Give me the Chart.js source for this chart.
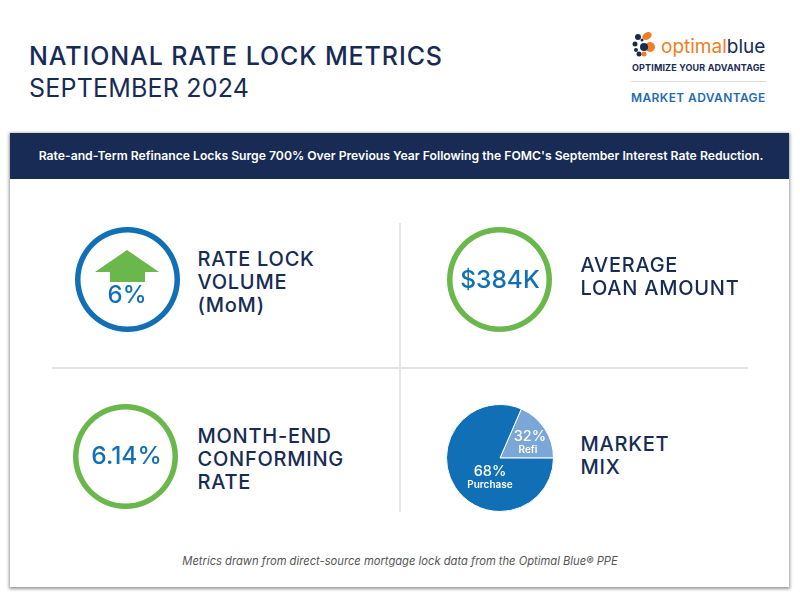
<!DOCTYPE html>
<html><head><meta charset="utf-8">
<script src="https://cdn.jsdelivr.net/npm/chart.js@4"></script>
<style>
html,body{margin:0;padding:0;background:#fff;width:800px;height:600px;overflow:hidden}
body{font-family:"Inter","Open Sans",sans-serif;position:relative}
.t{position:absolute;white-space:nowrap;line-height:1}
.card{position:absolute;left:10px;top:133px;width:779px;height:454px;background:#fff;box-shadow:0 1px 3px 1px #999}
.band{position:absolute;left:10px;top:133px;width:779px;height:46px;background:#172b55}
.ch{position:absolute}
.lab{color:#172b55;font-size:20px;font-weight:500;letter-spacing:.75px}
.val{color:#1170b5;text-align:center;transform:translateX(-50%);font-weight:500}
</style></head><body>
<div class="t" style="left:29px;top:44px;font-size:25px;font-weight:500;color:#172b55;letter-spacing:.9px">NATIONAL RATE LOCK METRICS</div>
<div class="t" style="left:29px;top:76px;font-size:25px;font-weight:400;color:#172b55;letter-spacing:.2px">SEPTEMBER 2024</div>
<svg style="position:absolute;left:628px;top:30px" width="30" height="30">
<g fill="#ee7d23"><ellipse cx="19" cy="6" rx="5" ry="3.5" transform="rotate(-30 19 6)"/><circle cx="22" cy="17" r="5"/><circle cx="16" cy="24" r="2.5"/></g>
<g fill="#172b55"><circle cx="16" cy="17" r="4"/><circle cx="10" cy="7" r="3"/><circle cx="7" cy="14" r="2.5"/><circle cx="8" cy="20" r="2"/><circle cx="11" cy="24" r="2.5"/><circle cx="14" cy="10" r="1.5"/></g>
</svg>
<div class="t" style="left:661px;top:37px;font-size:19px;font-weight:400;color:#ee7d23">optimal<span style="color:#172b55">blue</span></div>
<div class="t" style="left:632px;top:63px;font-size:9px;font-weight:700;color:#172b55;letter-spacing:.15px">OPTIMIZE YOUR ADVANTAGE</div>
<div style="position:absolute;left:631px;top:81px;width:135px;height:1px;background:#ddd"></div>
<div class="t" style="left:631px;top:92px;font-size:12px;font-weight:600;color:#1f6cb0;letter-spacing:.4px">MARKET ADVANTAGE</div>
<div class="card"></div><div class="band"></div>
<div class="t" style="left:401px;top:150px;transform:translateX(-50%);font-size:12.2px;font-weight:600;color:#fff">Rate-and-Term Refinance Locks Surge 700% Over Previous Year Following the FOMC's September Interest Rate Reduction.</div>
<div style="position:absolute;left:399px;top:223px;width:2px;height:289px;background:#e4e4e4"></div>
<div style="position:absolute;left:52px;top:367px;width:696px;height:2px;background:#e4e4e4"></div>
<canvas id="r1" class="ch" style="left:75px;top:227px"></canvas>
<canvas id="r2" class="ch" style="left:447px;top:227px"></canvas>
<canvas id="r3" class="ch" style="left:73px;top:404px"></canvas>
<canvas id="mix" class="ch" style="left:442px;top:400px"></canvas>
<svg style="position:absolute;left:90px;top:245px" width="75" height="40"><polygon points="37,5 69,27 55,27 55,37 20,37 20,27 5,27" fill="#6ab74b"/></svg>
<div class="t val" style="left:127px;top:283px;font-size:24px">6%</div>
<div class="t val" style="left:500px;top:267px;font-size:24.5px">$384K</div>
<div class="t val" style="left:126.5px;top:443px;font-size:24.5px">6.14%</div>
<div class="t lab" style="left:197.5px;top:248px;line-height:23px">RATE LOCK<br>VOLUME<br>(MoM)</div>
<div class="t lab" style="left:580.5px;top:254px;line-height:23px">AVERAGE<br>LOAN AMOUNT</div>
<div class="t lab" style="left:197.5px;top:425px;line-height:23px">MONTH-END<br>CONFORMING<br>RATE</div>
<div class="t lab" style="left:580.5px;top:433px;line-height:23px">MARKET<br>MIX</div>
<div class="t" style="left:530px;top:428px;transform:translateX(-50%);font-size:14.5px;line-height:15px;font-weight:500;color:#fff">32%</div>
<div class="t" style="left:528px;top:444px;transform:translateX(-50%);font-size:10px;line-height:11px;font-weight:600;color:#fff">Refi</div>
<div class="t" style="left:490px;top:463px;transform:translateX(-50%);font-size:14.5px;line-height:15px;font-weight:500;color:#fff">68%</div>
<div class="t" style="left:490px;top:479px;transform:translateX(-50%);font-size:10px;line-height:11px;font-weight:600;color:#fff">Purchase</div>
<div class="t" style="left:400px;top:556px;transform:translateX(-50%);font-size:11.2px;font-style:italic;color:#555">Metrics drawn from direct-source mortgage lock data from the Optimal Blue® PPE</div>
<script>
// Slice shares as drawn in the picture (the printed labels read 68% / 32%).
const mixCategories = ["Refi", "Purchase"];
const mixDrawnShares = [18.5, 81.5];
const mixColors = ["#7ba7d7", "#1170b5"];
const ringValues = [100];
function ring(id, color) {
  const c=document.getElementById(id); c.width=105; c.height=105; c.style.width="105px"; c.style.height="105px";
  new Chart(c, {type:"doughnut",
    data:{labels:[id],datasets:[{data:ringValues,backgroundColor:color,borderWidth:0}]},
    options:{responsive:false,animation:false,cutout:"89.5%",layout:{padding:0},events:[],
      plugins:{legend:{display:false},tooltip:{enabled:false}}}});
}
ring("r1","#1170b5");
ring("r2","#6ab74b");
ring("r3","#6ab74b");
const m=document.getElementById("mix"); m.width=116; m.height=116; m.style.width="116px"; m.style.height="116px";
new Chart(m,{type:"pie",
  data:{labels:mixCategories,datasets:[{data:mixDrawnShares,backgroundColor:mixColors,borderColor:"#fff",borderWidth:1}]},
  options:{responsive:false,animation:false,rotation:23.5,layout:{padding:4},events:[],
    plugins:{legend:{display:false},tooltip:{enabled:false}}}});
</script>
</body></html>
